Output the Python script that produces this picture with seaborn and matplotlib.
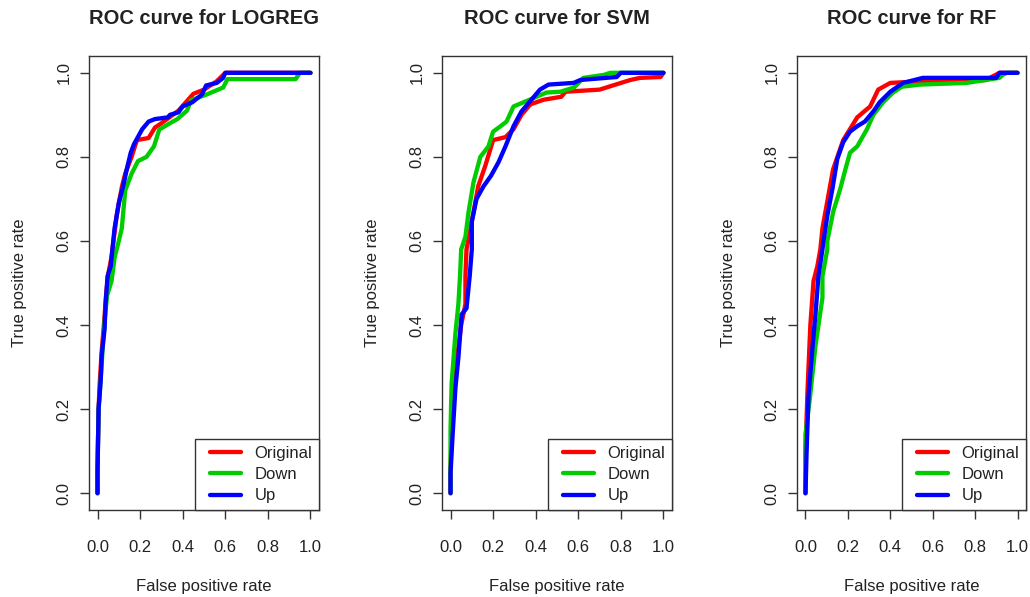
import pandas as pd
import seaborn as sns
import matplotlib.pyplot as plt
from matplotlib.lines import Line2D
from matplotlib.legend_handler import HandlerLine2D

# ---- data ----
models = ["LOGREG", "SVM", "RF"]
samplings = ["Original", "Down", "Up"]
colors = ["#ff0000", "#00cc00", "#0000ff"]

logreg_orig_fpr = [0, 0, 0.005, 0.01, 0.02, 0.03, 0.04, 0.05, 0.065, 0.075, 0.09, 0.1, 0.115, 0.13, 0.16, 0.185,
                   0.24, 0.27, 0.30, 0.38, 0.45, 0.50, 0.56, 0.60, 1.0]
logreg_orig_tpr = [0, 0.06, 0.2, 0.26, 0.34, 0.40, 0.47, 0.52, 0.56, 0.60, 0.66, 0.69, 0.73, 0.76, 0.80, 0.84,
                   0.845, 0.87, 0.88, 0.91, 0.95, 0.96, 0.98, 1.0, 1.0]
logreg_down_fpr = [0, 0, 0.005, 0.015, 0.025, 0.035, 0.045, 0.066, 0.08, 0.1, 0.114, 0.13, 0.16, 0.19, 0.23,
                   0.265, 0.29, 0.34, 0.375, 0.42, 0.44, 0.51, 0.59, 0.61, 0.93, 0.95, 1.0]
logreg_down_tpr = [0, 0.06, 0.2, 0.27, 0.35, 0.42, 0.47, 0.505, 0.56, 0.60, 0.63, 0.72, 0.76, 0.79, 0.80,
                   0.825, 0.865, 0.88, 0.89, 0.91, 0.935, 0.948, 0.965, 0.985, 0.985, 1.0, 1.0]
logreg_up_fpr = [0, 0, 0.005, 0.015, 0.02, 0.033, 0.038, 0.047, 0.062, 0.07, 0.08, 0.1, 0.123, 0.137, 0.156,
                 0.171, 0.21, 0.24, 0.27, 0.33, 0.34, 0.38, 0.40, 0.445, 0.49, 0.51, 0.56, 0.59, 0.60, 1.0]
logreg_up_tpr = [0, 0.05, 0.2, 0.27, 0.33, 0.39, 0.45, 0.516, 0.54, 0.58, 0.63, 0.69, 0.736, 0.77, 0.81,
                 0.83, 0.866, 0.884, 0.89, 0.894, 0.90, 0.906, 0.92, 0.93, 0.948, 0.97, 0.976, 0.988, 1.0, 1.0]

svm_orig_fpr = [0, 0, 0.01, 0.03, 0.05, 0.07, 0.07, 0.075, 0.094, 0.13, 0.164, 0.2, 0.258, 0.296, 0.333,
                0.375, 0.437, 0.52, 0.54, 0.70, 0.775, 0.845, 0.89, 0.986, 1.0]
svm_orig_tpr = [0, 0.06, 0.2, 0.32, 0.40, 0.45, 0.516, 0.58, 0.63, 0.73, 0.78, 0.84, 0.847, 0.866, 0.90,
                0.925, 0.936, 0.943, 0.955, 0.96, 0.972, 0.983, 0.988, 0.99, 1.0]
svm_down_fpr = [0, 0, 0.005, 0.023, 0.037, 0.045, 0.05, 0.07, 0.085, 0.108, 0.14, 0.178, 0.20, 0.235, 0.263,
                0.296, 0.343, 0.39, 0.45, 0.516, 0.58, 0.624, 0.72, 0.75, 1.0]
svm_down_tpr = [0, 0.15, 0.26, 0.38, 0.45, 0.52, 0.58, 0.61, 0.67, 0.74, 0.80, 0.825, 0.86, 0.873, 0.884,
                0.92, 0.93, 0.94, 0.953, 0.955, 0.965, 0.988, 0.995, 1.0, 1.0]
svm_up_fpr = [0, 0, 0.01, 0.023, 0.037, 0.052, 0.075, 0.09, 0.1, 0.1, 0.122, 0.155, 0.19, 0.225, 0.258,
              0.296, 0.333, 0.38, 0.42, 0.46, 0.578, 0.61, 0.78, 0.80, 1.0]
svm_up_tpr = [0, 0.047, 0.14, 0.25, 0.323, 0.425, 0.44, 0.516, 0.58, 0.646, 0.70, 0.73, 0.755, 0.787, 0.825,
              0.873, 0.908, 0.936, 0.96, 0.972, 0.976, 0.983, 0.99, 1.0, 1.0]

rf_orig_fpr = [0, 0, 0.01, 0.023, 0.038, 0.056, 0.07, 0.08, 0.13, 0.178, 0.244, 0.305, 0.343, 0.40, 0.554,
               0.76, 0.855, 0.87, 0.915, 1.0]
rf_orig_tpr = [0, 0.1, 0.25, 0.40, 0.505, 0.54, 0.58, 0.63, 0.77, 0.84, 0.894, 0.92, 0.96, 0.976, 0.98,
               0.98, 0.983, 0.988, 1.0, 1.0]
rf_down_fpr = [0, 0, 0.023, 0.047, 0.08, 0.08, 0.103, 0.103, 0.131, 0.164, 0.188, 0.21, 0.244, 0.29, 0.32,
               0.366, 0.413, 0.455, 0.54, 0.76, 0.915, 0.93, 0.95, 1.0]
rf_down_tpr = [0, 0.14, 0.236, 0.35, 0.465, 0.516, 0.58, 0.60, 0.67, 0.724, 0.77, 0.81, 0.825, 0.866, 0.90,
               0.93, 0.953, 0.967, 0.972, 0.976, 0.988, 0.995, 1.0, 1.0]
rf_up_fpr = [0, 0.005, 0.014, 0.033, 0.047, 0.061, 0.08, 0.085, 0.103, 0.127, 0.15, 0.178, 0.21, 0.244, 0.28,
             0.32, 0.35, 0.40, 0.46, 0.554, 0.90, 0.915, 1.0]
rf_up_tpr = [0, 0.094, 0.23, 0.347, 0.425, 0.516, 0.58, 0.60, 0.66, 0.724, 0.795, 0.835, 0.86, 0.873, 0.884,
             0.908, 0.93, 0.955, 0.976, 0.988, 0.988, 1.0, 1.0]

curves = {
    "LOGREG": [(logreg_orig_fpr, logreg_orig_tpr), (logreg_down_fpr, logreg_down_tpr), (logreg_up_fpr, logreg_up_tpr)],
    "SVM": [(svm_orig_fpr, svm_orig_tpr), (svm_down_fpr, svm_down_tpr), (svm_up_fpr, svm_up_tpr)],
    "RF": [(rf_orig_fpr, rf_orig_tpr), (rf_down_fpr, rf_down_tpr), (rf_up_fpr, rf_up_tpr)],
}

sns.set_style("ticks")
plt.rcParams['font.family'] = ['Liberation Sans', 'DejaVu Sans']
txt = "#222222"

fig = plt.figure(figsize=(10.3, 5.97), dpi=100)
lefts = [89, 442, 797]
widths = [230, 230, 229]

for i, model in enumerate(models):
    ax = fig.add_axes([lefts[i] / 1030, 1 - 510 / 597, widths[i] / 1030, 454 / 597])
    rows = []
    for s, (fpr, tpr) in zip(samplings, curves[model]):
        rows.append(pd.DataFrame({"fpr": fpr, "tpr": tpr, "sampling": s}))
    df = pd.concat(rows, ignore_index=True)
    sns.lineplot(data=df, x="fpr", y="tpr", hue="sampling", hue_order=samplings,
                 palette=colors, sort=False, estimator=None, units="sampling",
                 linewidth=3.1, legend=False, ax=ax)

    ax.set_xlim(-0.04, 1.04)
    ax.set_ylim(-0.04, 1.04)
    ticks = [0, 0.2, 0.4, 0.6, 0.8, 1.0]
    ax.set_xticks(ticks)
    ax.set_yticks(ticks)
    ax.set_xticklabels([f"{t:.1f}" for t in ticks])
    ax.set_yticklabels([f"{t:.1f}" for t in ticks], rotation=90, va="center")
    ax.tick_params(axis="both", direction="out", length=6.5, width=1, colors="#333333",
                   labelcolor=txt, labelsize=12)
    ax.tick_params(axis="x", pad=15)
    ax.tick_params(axis="y", pad=6)
    for sp in ax.spines.values():
        sp.set_visible(True)
        sp.set_color("#333333")
        sp.set_linewidth(1)

    ax.set_xlabel("False positive rate", fontsize=12, color=txt)
    ax.set_ylabel("True positive rate", fontsize=12, color=txt)
    ax.xaxis.set_label_coords(0.5, (510 - 586) / 454)
    ax.xaxis.label.set_va("center")
    ax.yaxis.set_label_coords((20 - 89) / 230, 0.5)
    ax.yaxis.label.set_va("center")
    ax.set_title(f"ROC curve for {model}", fontsize=14.5, fontweight="bold", color=txt,
                 y=1 + 38 / 454, va="center", pad=0)

    handles = [Line2D([], [], color=c, linewidth=3.1) for c in colors]
    leg = ax.legend(handles, samplings, loc="lower right", bbox_to_anchor=(1, 0),
                    borderaxespad=0, fancybox=False, framealpha=1, edgecolor="#333333",
                    fontsize=12, handlelength=2.4, handletextpad=0.8, labelspacing=0.38,
                    borderpad=0.4, handler_map={Line2D: HandlerLine2D(xpad=0.5)})
    leg.get_frame().set_linewidth(1)
    for t in leg.get_texts():
        t.set_color(txt)

fig.savefig("out.png", dpi=100)
